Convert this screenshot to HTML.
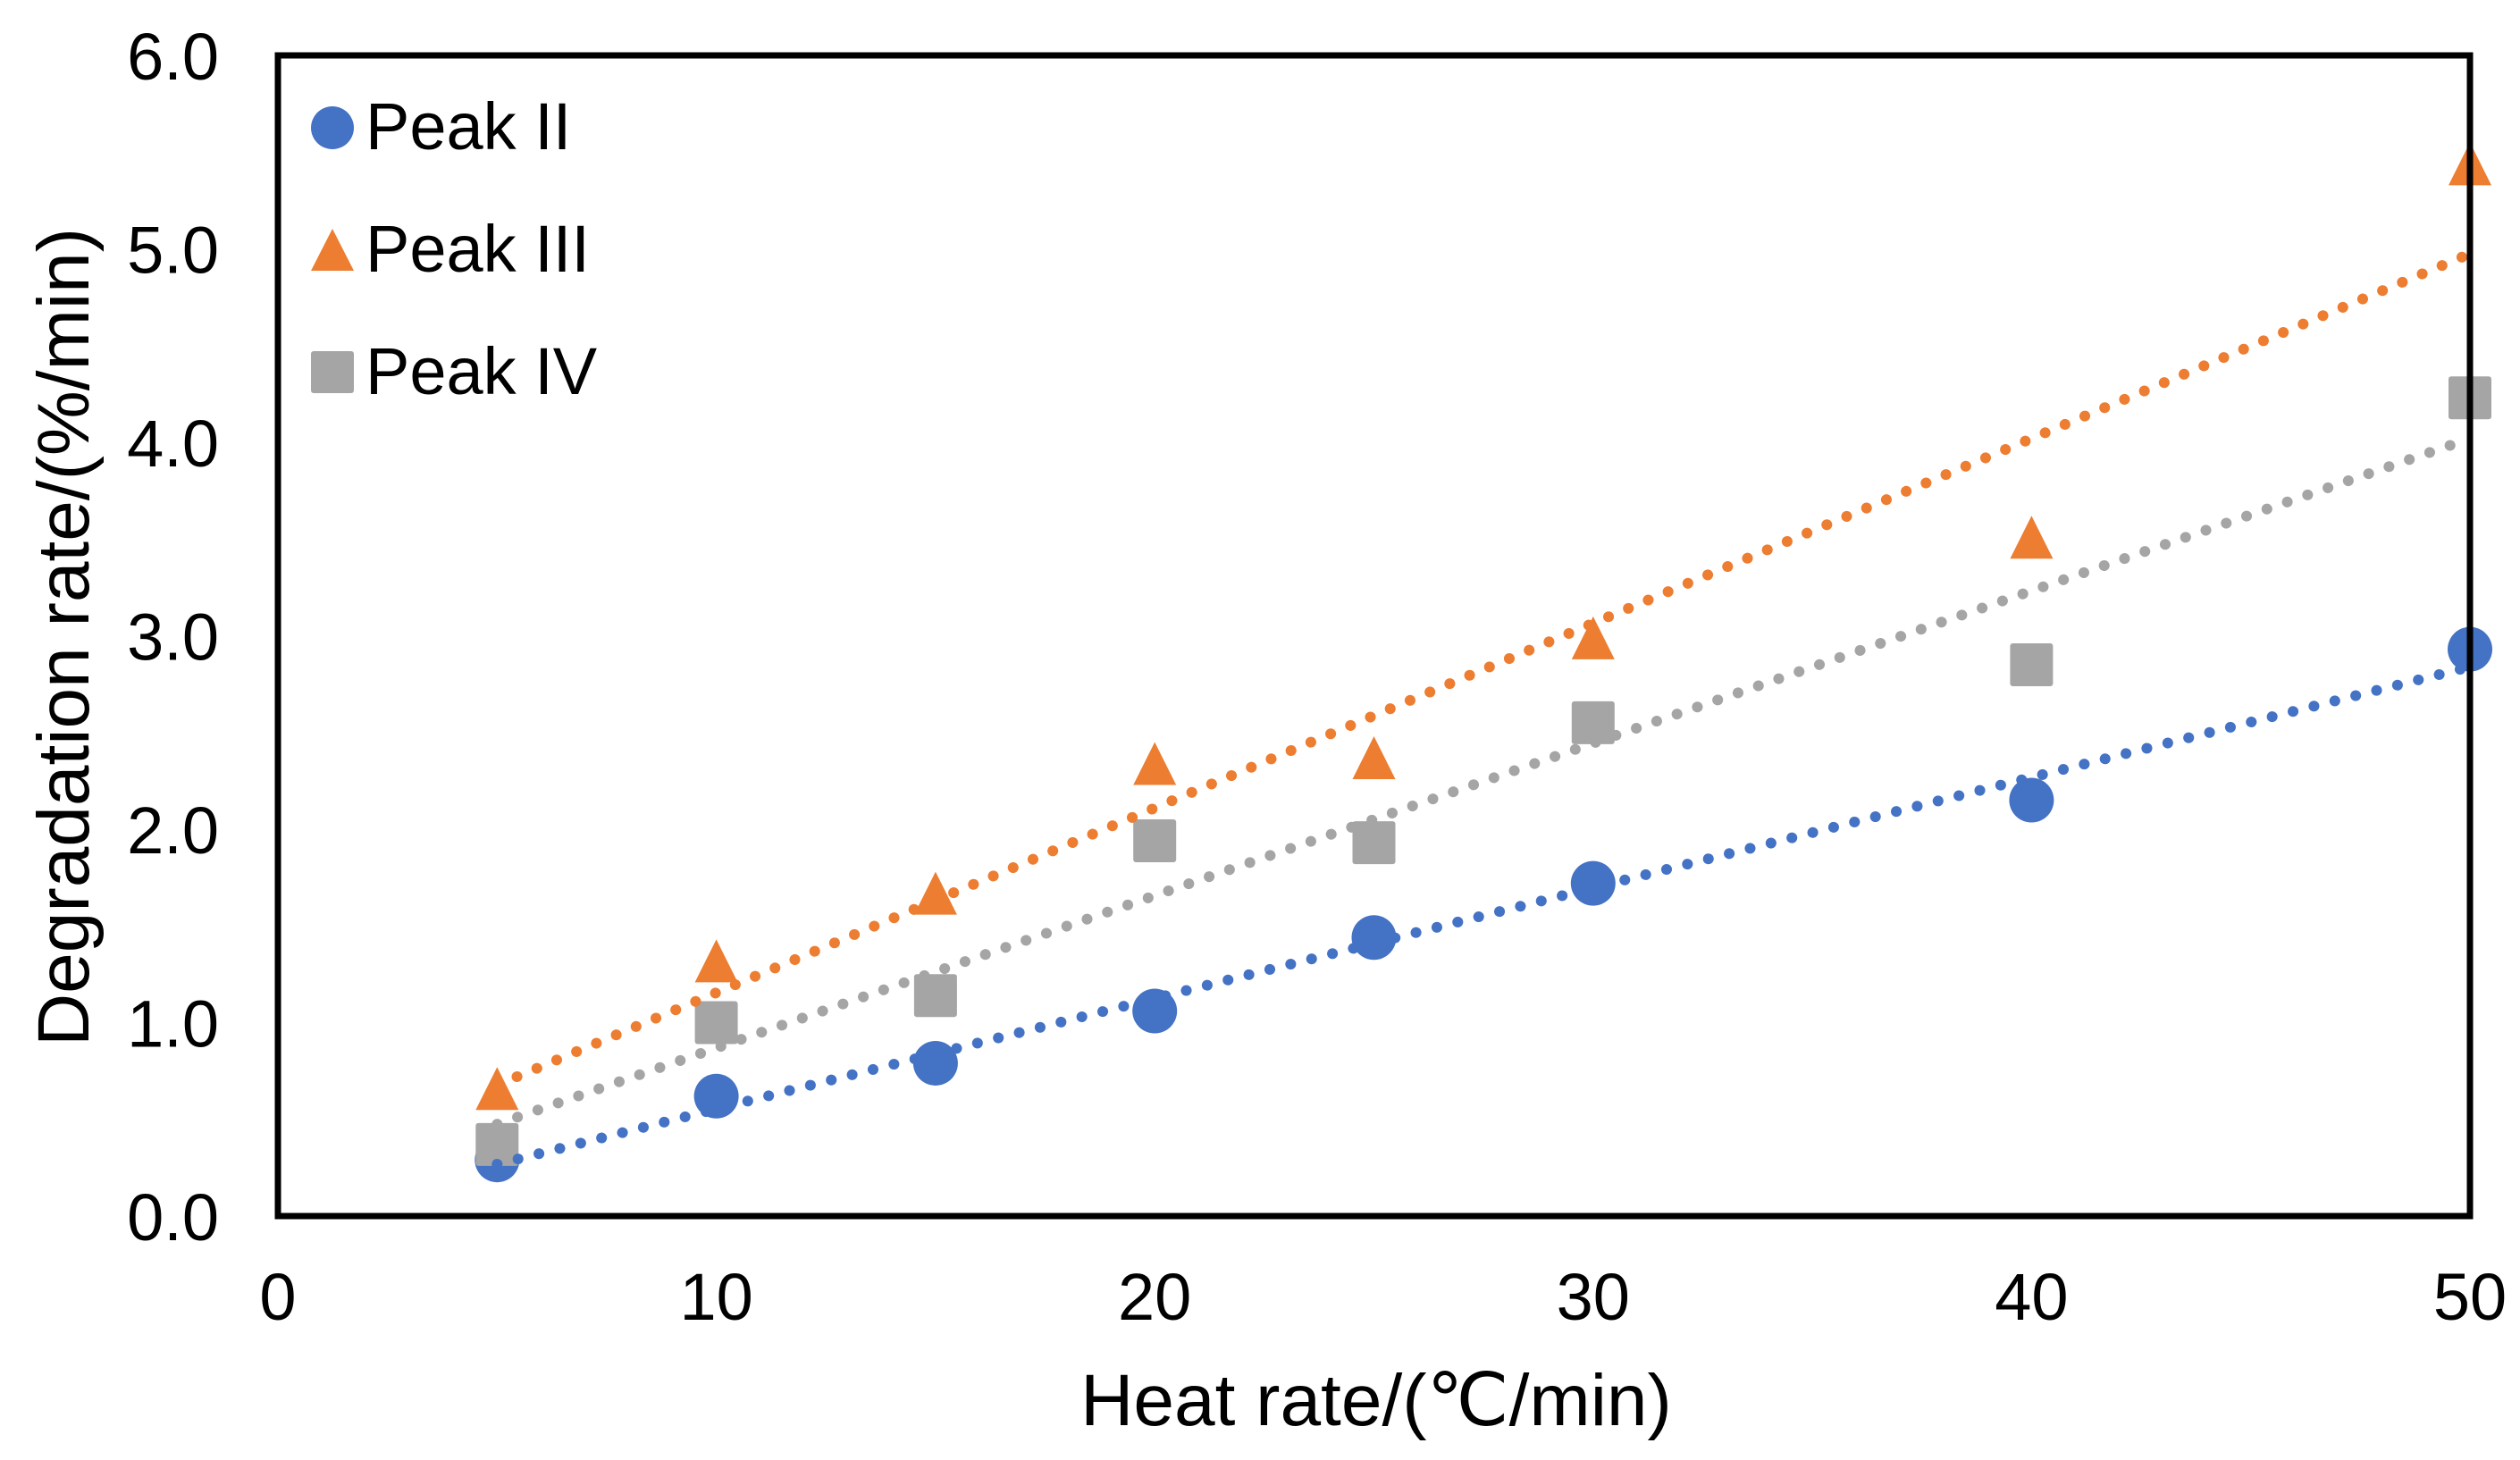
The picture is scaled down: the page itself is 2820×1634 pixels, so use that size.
<!DOCTYPE html>
<html><head><meta charset="utf-8"><style>
html,body{margin:0;padding:0;background:#fff;}
svg{display:block;font-family:"Liberation Sans",Arial,sans-serif;}
</style></head><body>
<svg id="chart" width="2820" height="1634" viewBox="0 0 2820 1634" xmlns="http://www.w3.org/2000/svg">
<rect x="0" y="0" width="2820" height="1634" fill="#fff"/>
<g id="marks"></g>
<g id="lines"></g>
<rect x="311" y="62" width="2453" height="1299" fill="none" stroke="#000" stroke-width="7"/>
<g id="yticks"></g>
<g id="xticks"></g>
<text x="1540" y="1595" font-size="82" text-anchor="middle">Heat rate/(℃/min)</text>
<text transform="translate(99,713) rotate(-90)" font-size="82" text-anchor="middle">Degradation rate/(%/min)</text>
<g>
<circle cx="372" cy="143" r="24" fill="#4472C4"/>
<text x="409" y="167" font-size="74">Peak II</text>
<polygon points="372,256 396,303 348,303" fill="#ED7D31"/>
<text x="409" y="304" font-size="74">Peak III</text>
<rect x="348" y="393" width="48" height="47" rx="3" fill="#A5A5A5"/>
<text x="409" y="441" font-size="74">Peak IV</text>
</g>
</svg>
<script>
const xValues = [5, 10, 15, 20, 25, 30, 40, 50];
const peakII = [0.29, 0.62, 0.79, 1.06, 1.44, 1.72, 2.15, 2.93];
const peakIII = [0.65, 1.31, 1.66, 2.33, 2.36, 2.98, 3.50, 5.43];
const peakIV = [0.37, 1.00, 1.14, 1.94, 1.93, 2.55, 2.85, 4.23];
const xTickLabels = ["0", "10", "20", "30", "40", "50"];
const xTickValues = [0, 10, 20, 30, 40, 50];
const yTickLabels = ["0.0", "1.0", "2.0", "3.0", "4.0", "5.0", "6.0"];
const yTickValues = [0, 1, 2, 3, 4, 5, 6];

const NS = "http://www.w3.org/2000/svg";
const L = 311, R = 2764, T = 62, B = 1361;
function sx(v){ return L + (v - 0) / 50 * (R - L); }
function sy(v){ return B - (v - 0) / 6 * (B - T); }
function mk(tag, attrs, parent){
  const e = document.createElementNS(NS, tag);
  for (const k in attrs) e.setAttribute(k, attrs[k]);
  parent.appendChild(e); return e;
}
const marks = document.getElementById('marks');
const lines = document.getElementById('lines');

xValues.forEach((x, i) => {
  const c = mk('circle', {cx: sx(x), cy: sy(peakII[i]), r: 25, fill: '#4472C4'}, marks);
  
  
});
xValues.forEach((x, i) => {
  const cx = sx(x), cy = sy(peakIII[i]);
  const p = mk('polygon', {points: `${cx},${cy-26} ${cx+24},${cy+22} ${cx-24},${cy+22}`, fill: '#ED7D31'}, marks);
  
  
});
xValues.forEach((x, i) => {
  const r = mk('rect', {x: sx(x)-24, y: sy(peakIV[i])-24, width: 48, height: 48, rx: 3, fill: '#A5A5A5'}, marks);
  
  
});

function fit(ys){
  const n = xValues.length;
  const mx = xValues.reduce((a,b)=>a+b,0)/n, my = ys.reduce((a,b)=>a+b,0)/n;
  let num = 0, den = 0;
  xValues.forEach((x,i)=>{ num += (x-mx)*(ys[i]-my); den += (x-mx)*(x-mx); });
  const m = num/den; return [m, my - m*mx];
}
[[peakII, '#4472C4', 'peak-ii-trendline'], [peakIII, '#ED7D31', 'peak-iii-trendline'], [peakIV, '#A5A5A5', 'peak-iv-trendline']].forEach(([ys, col, name]) => {
  const [m, b] = fit(ys);
  const x0 = xValues[0], x1 = xValues[xValues.length-1];
  const ln = mk('line', {x1: sx(x0), y1: sy(m*x0+b), x2: sx(x1), y2: sy(m*x1+b), stroke: col, 'stroke-width': 12, 'stroke-linecap': 'round', 'stroke-dasharray': '0.1 24'}, lines);
  
  
});

const yt = document.getElementById('yticks');
yTickValues.forEach((v, i) => {
  const t = mk('text', {x: 245, y: sy(v) + 27, 'font-size': 74, 'text-anchor': 'end'}, yt);
  t.textContent = yTickLabels[i];
  
  
});
const xt = document.getElementById('xticks');
xTickValues.forEach((v, i) => {
  const t = mk('text', {x: sx(v), y: 1477, 'font-size': 74, 'text-anchor': 'middle'}, xt);
  t.textContent = xTickLabels[i];
  
  
});
</script>
</body></html>
